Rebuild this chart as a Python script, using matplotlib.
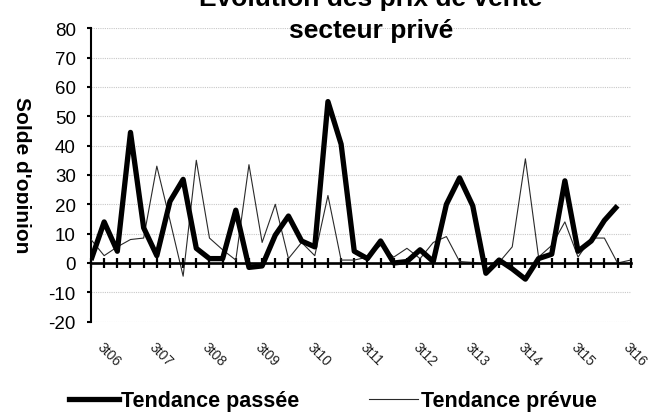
import matplotlib
matplotlib.use("Agg")
import matplotlib.pyplot as plt
from matplotlib.lines import Line2D
from matplotlib.transforms import ScaledTranslation, Bbox, TransformedBbox

# ---- data ----
tick_labels = ["3t06", "3t07", "3t08", "3t09", "3t10", "3t11",
               "3t12", "3t13", "3t14", "3t15", "3t16"]
tendance_passee = [1, 14, 4, 44.5, 12, 2.5, 21, 28.5, 5, 1.5,
                   1.5, 18, -1.5, -1, 9.5, 16, 7.5, 5.5, 55, 40.5,
                   4, 1.5, 7.5, 0, 0.5, 4.5, 0.5, 20, 29, 19.5,
                   -3.5, 1, -2, -5.5, 1.5, 3, 28, 4, 7.5, 14.5,
                   19.5]
tendance_prevue = [8, 2.5, 5.5, 8, 8.5, 33, 14.5, -4.5, 35, 8.5,
                   4.5, 1, 33.5, 7, 20, 1.5, 7, 2.5, 23, 1,
                   1, 2, 6, 2, 5, 1.5, 7, 9, 0.5, 0.2,
                   -0.5, 0.2, 5.5, 35.5, 2, 6, 14, 2, 8.5, 8.5,
                   0, 1]
y_ticks = [-20, -10, 0, 10, 20, 30, 40, 50, 60, 70, 80]

plt.rcParams['font.family'] = ['Liberation Sans', 'DejaVu Sans']
plt.rcParams['axes.unicode_minus'] = False

W, H = 657, 414
fig = plt.figure(figsize=(W / 100, H / 100), dpi=100)
x0, x1 = 91, 630.7
ytop, ybot = 29.2, 322.7
ax = fig.add_axes([x0 / W, (H - ybot) / H, (x1 - x0) / W, (ybot - ytop) / H])

xs_p = list(range(len(tendance_passee)))
xs_v = list(range(len(tendance_prevue)))
ax.plot(xs_v, tendance_prevue, color='#2a2a2a', lw=0.8, zorder=3)
ax.plot(xs_p, tendance_passee, color='black', lw=3.8, zorder=4,
        solid_joinstyle='round', solid_capstyle='butt')

ax.set_xlim(0, len(tendance_prevue) - 1)
ax.set_ylim(y_ticks[0], y_ticks[-1])
ax.set_yticks(y_ticks)
ax.yaxis.grid(True, color='#c8c8c8', lw=0.8, linestyle=(0, (1, 1)))
ax.set_axisbelow(True)

for s in ['top', 'right']:
    ax.spines[s].set_visible(False)
ax.spines['left'].set_linewidth(1.5)
ax.spines['bottom'].set_position(('data', 0))
ax.spines['bottom'].set_linewidth(1.9)
ax.spines['bottom'].set_zorder(5)

ax.set_xticks(xs_v)
ax.tick_params(axis='x', direction='inout', length=7.5, width=1.6,
               labelbottom=False)
ax.tick_params(axis='y', direction='out', length=3, width=1.5,
               labelsize=13.5, pad=8)

# category labels along the bottom of the plot area
sec = ax.secondary_xaxis('bottom')
sec.spines['bottom'].set_visible(False)
sec.set_xticks(list(range(0, len(tendance_prevue), 4))[:len(tick_labels)], tick_labels)
sec.tick_params(axis='x', length=0, pad=12.5, labelsize=10, labelcolor='#222222')
off = ScaledTranslation(0.03, 0, fig.dpi_scale_trans)
for lab in sec.get_xticklabels():
    lab.set_rotation(-45)
    lab.set_ha('left')
    lab.set_va('top')
    lab.set_transform(lab.get_transform() + off)

# title (first line partly out of the figure, as in the reference)
fig.text(371 / W, (H - 6) / H, "Évolution des prix de vente", ha='center',
         va='baseline', fontsize=19, fontweight='bold')
fig.text(371 / W, (H - 38) / H, "secteur privé", ha='center',
         va='baseline', fontsize=19, fontweight='bold')

# y axis title, clipped on the left as in the reference
yl = fig.text(21.5 / W, (H - 175) / H, "Solde d'opinion", rotation=-90,
              ha='center', va='center', fontsize=15, fontweight='bold')
yl.set_clip_box(TransformedBbox(Bbox([[16.5 / W, 0], [1, 1]]), fig.transFigure))
yl.set_clip_on(True)

handles = [Line2D([], [], color='black', lw=3.8),
           Line2D([], [], color='#2a2a2a', lw=0.8)]
fig.legend(handles, ["Tendance passée", "Tendance prévue"], ncol=2,
           loc='center', bbox_to_anchor=(333 / W, (H - 402) / H),
           frameon=False, prop={'weight': 'bold', 'size': 15.5},
           handlelength=2.3, handletextpad=0.12, columnspacing=3.2,
           borderpad=0, borderaxespad=0)

fig.savefig("out.png", dpi=100)
